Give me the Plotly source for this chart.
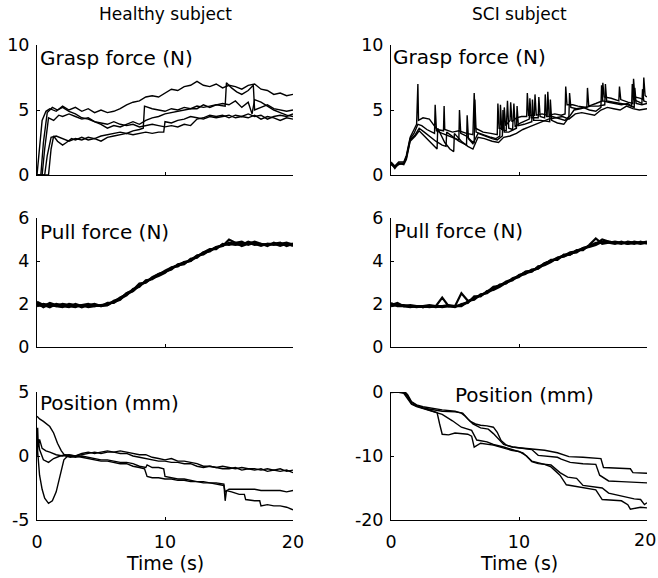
import plotly.graph_objects as go

# ---------------- data ----------------
# Healthy subject, grasp force (N): (time s, value) pairs
HG_A = [(0,0),(0.15,1.5),(0.4,4.2),(0.7,4.9),(1,5.1),(1.5,4.9),(2,5.3),(2.5,5.0),(3,5.2),(3.5,4.9),(4,5.1),(4.5,4.8),(5,5.0),(5.5,4.8),(6,4.9),(6.5,5.1),(7,5.4),(7.5,5.6),(8,5.7),(8.5,6.0),(9,6.1),(9.5,6.0),(10,6.3),(10.5,6.6),(11,6.5),(11.5,6.8),(12,6.9),(12.5,7.2),(13,6.9),(13.5,6.8),(14,7.0),(14.5,6.7),(15,6.9),(15.5,6.8),(16,6.6),(16.5,6.9),(17,7.0),(17.5,6.6),(18,6.5),(18.5,6.2),(19,6.3),(19.5,6.1),(20,6.2)]
HG_B = [(0,0),(0.3,0),(0.5,2.5),(0.8,4.8),(1.2,5.2),(1.6,5.0),(2,5.2),(2.5,4.9),(3,4.7),(3.5,4.4),(4,4.3),(4.5,4.1),(5,3.9),(5.5,3.6),(6,3.8),(6.5,3.7),(7,3.9),(7.5,4.1),(8,3.9),(8.5,4.2),(9,4.4),(9.5,4.5),(10,4.7),(10.5,4.8),(11,4.9),(11.5,5.0),(12,5.1),(12.5,5.1),(13,5.4),(13.5,5.2),(14,5.4),(14.5,5.5),(15,5.4),(15.5,5.7),(16,5.2),(16.5,5.6),(16.8,4.7),(17.0,5.8),(17.5,5.6),(18,5.3),(18.5,5.0),(19,4.8),(19.5,4.6),(20,4.5)]
HG_C = [(0,0),(0.6,0),(0.8,1.5),(1.1,2.9),(1.5,3.0),(2,2.8),(2.5,2.6),(3,2.8),(3.5,2.7),(4,2.9),(4.5,2.8),(5,3.0),(5.5,3.1),(6,3.2),(6.5,3.3),(7,3.2),(7.5,3.4),(8,3.5),(8.3,3.6),(8.4,5.3),(9,5.1),(9.5,5.0),(10,4.9),(10.5,5.1),(11,5.0),(11.5,5.2),(12,5.1),(12.5,5.3),(13,5.2),(13.5,5.3),(14,5.4),(14.7,5.3),(14.8,7.1),(15.2,6.7),(15.6,6.4),(16,6.2),(16.5,6.5),(16.9,6.9),(17.0,5.0),(17.5,5.2),(18,5.4),(18.5,5.1),(19,5.0),(19.5,4.9),(20,5.0)]
HG_D = [(0,0),(0.9,0),(1.1,2.0),(1.3,3.0),(1.6,2.6),(2,2.3),(2.3,2.5),(2.7,2.8),(3,2.7),(3.5,2.9),(4,2.7),(4.5,2.8),(5,2.6),(5.5,2.9),(6,3.0),(6.5,3.1),(7,3.2),(7.5,3.1),(8,3.2),(8.5,3.3),(9,3.2),(9.5,3.3),(9.9,3.3),(10,4.1),(10.5,4.0),(11,4.2),(11.5,4.3),(12,4.5),(12.5,4.4),(13,4.3),(13.5,4.5),(14,4.4),(14.5,4.5),(15,4.6),(15.5,4.4),(16,4.5),(16.5,4.4),(17,4.6),(17.5,4.3),(18,4.5),(18.5,4.4),(19,4.2),(19.5,4.4),(20,4.3)]
HG_E = [(0,0),(0.4,0),(0.6,2.0),(0.9,4.4),(1.3,4.2),(1.7,4.6),(2,4.5),(2.5,4.7),(3,4.5),(3.5,4.3),(4,4.4),(4.5,4.1),(5,4.0),(5.5,3.9),(6,4.1),(6.5,3.9),(7,3.8),(7.5,3.9),(8,3.7),(8.5,3.8),(9,3.9),(9.5,3.8),(10,3.7),(10.5,3.8),(11,3.7),(11.5,3.9),(12,3.8),(12.5,4.3),(13,4.4),(13.5,4.6),(14,4.5),(14.5,4.6),(15,4.4),(15.5,4.6),(16,4.5),(16.5,4.7),(17,4.5),(17.5,4.6),(18,4.3),(18.5,4.5),(19,4.6),(19.5,4.5),(20,4.7)]

# SCI subject, grasp force (N)
SG_A = [(0,1.0),(0.3,0.7),(0.6,1.0),(1.0,1.0),(1.2,1.5),(1.5,2.9),(1.8,3.5),(2.0,3.9),(2.1,7.0),(2.15,4.2),(2.5,4.4),(3.0,4.3),(3.3,3.9),(3.6,3.5),(4.1,3.4),(4.15,5.3),(4.2,3.5),(4.8,3.3),(5.3,3.4),(5.9,3.2),(6.4,3.1),(6.5,6.3),(6.6,3.6),(7.2,3.3),(7.8,3.2),(8.3,3.1),(8.35,5.5),(8.45,3.6),(8.8,3.6),(8.85,5.2),(8.95,3.8),(9.3,4.2),(9.35,5.6),(9.45,4.1),(9.8,4.4),(10.2,4.5),(10.6,4.5),(10.65,6.3),(10.75,4.6),(11.2,4.6),(11.25,6.2),(11.35,4.6),(11.8,4.7),(12.2,4.6),(12.25,6.4),(12.35,4.6),(12.8,4.7),(13.3,4.6),(13.6,4.7),(13.65,6.8),(13.75,5.4),(14.2,5.4),(14.6,5.3),(15.3,5.2),(15.35,6.7),(15.45,5.3),(16.0,5.5),(16.5,5.7),(16.55,7.1),(16.65,6.0),(17.2,5.9),(17.8,5.7),(17.85,6.8),(17.95,5.8),(18.5,5.6),(18.9,5.5),(18.95,7.4),(19.05,6.0),(19.5,5.9),(19.7,5.8),(19.75,7.5),(19.85,6.1),(20,6.0)]
SG_B = [(0,0.9),(0.3,0.6),(0.6,0.9),(1.0,0.9),(1.2,1.4),(1.5,2.8),(1.8,3.2),(2.1,3.9),(2.4,3.8),(2.8,3.5),(3.2,3.3),(3.4,3.2),(3.45,5.4),(3.55,3.4),(4.0,3.2),(4.5,3.0),(5.0,2.8),(5.3,2.7),(5.35,5.0),(5.45,3.2),(5.9,3.0),(6.3,2.6),(6.5,2.5),(6.55,5.8),(6.65,3.3),(7.2,3.1),(7.8,2.9),(8.2,2.8),(8.5,3.0),(8.55,5.4),(8.65,3.5),(9.0,3.4),(9.1,5.7),(9.2,3.6),(9.5,3.5),(9.6,5.5),(9.7,3.7),(10.1,4.0),(10.8,4.3),(10.85,5.9),(10.95,4.4),(11.5,4.4),(11.55,6.0),(11.65,4.5),(12.0,4.4),(12.05,6.2),(12.15,4.5),(12.6,4.5),(13.2,4.3),(13.6,4.2),(13.9,4.5),(13.95,6.3),(14.05,5.2),(14.5,5.1),(15.0,5.2),(15.5,5.0),(16.0,4.9),(16.4,5.2),(16.45,6.9),(16.55,5.7),(17.0,5.6),(17.5,5.5),(18.0,5.4),(18.5,5.5),(18.8,5.3),(18.85,7.0),(18.95,5.8),(19.4,5.6),(19.6,5.5),(19.65,6.6),(19.75,5.7),(20,5.6)]
SG_C = [(0,0.8),(0.3,0.6),(0.6,0.8),(1.0,0.9),(1.2,1.3),(1.5,2.7),(1.9,3.1),(2.2,3.6),(2.6,3.3),(3.0,3.0),(3.5,2.6),(4.0,2.3),(4.3,2.2),(4.35,3.3),(4.8,3.0),(5.3,2.6),(5.9,2.3),(5.95,4.6),(6.05,2.8),(6.4,2.4),(6.8,3.2),(7.3,3.0),(7.9,2.8),(8.3,2.7),(8.7,3.0),(8.75,5.0),(8.85,3.3),(9.2,3.3),(9.8,3.6),(9.85,5.3),(9.95,3.8),(10.4,3.9),(11.0,4.1),(11.05,5.8),(11.15,4.2),(11.7,4.2),(12.4,4.1),(12.45,5.8),(12.55,4.2),(13.0,4.0),(13.5,3.9),(13.8,4.3),(14.3,5.0),(14.8,5.1),(15.2,5.2),(15.6,5.3),(16.2,5.3),(16.7,5.4),(16.75,7.0),(16.85,5.7),(17.4,5.6),(18.0,5.5),(18.5,5.4),(19.0,5.2),(19.05,6.7),(19.15,5.5),(19.6,5.4),(20,5.5)]
SG_D = [(0,0.9),(0.3,0.5),(0.6,0.9),(1.0,0.8),(1.2,1.2),(1.5,2.6),(1.9,3.0),(2.2,3.4),(2.6,3.0),(3.0,2.6),(3.4,2.2),(3.6,2.0),(3.65,3.6),(4.2,2.5),(4.6,2.0),(4.9,1.8),(4.95,3.2),(5.5,2.6),(6.0,2.2),(6.4,2.0),(6.8,2.9),(7.3,2.8),(7.9,2.6),(8.4,2.5),(8.8,2.9),(9.3,3.0),(9.8,3.2),(10.3,3.5),(10.8,3.7),(11.3,3.9),(11.8,4.1),(12.3,4.3),(12.9,4.4),(13.4,4.5),(13.9,4.3),(14.4,4.7),(14.9,4.8),(15.4,4.7),(15.9,4.6),(16.4,5.0),(16.9,5.2),(17.4,5.1),(17.9,5.0),(18.4,5.3),(18.9,5.1),(19.4,5.0),(20,5.1)]

# Pull force (N), sampled every 0.5 s from 0 to 20 s
T_PULL = [i * 0.5 for i in range(41)]
HPF = [
    [1.9,2.0,1.95,1.9,2.0,1.95,1.9,1.95,1.85,1.9,1.95,2.0,2.1,2.3,2.45,2.6,2.9,3.0,3.25,3.4,3.5,3.6,3.85,3.9,4.05,4.25,4.3,4.5,4.6,4.75,4.8,4.75,4.8,4.85,4.75,4.8,4.7,4.85,4.75,4.8,4.7],
    [2.05,1.85,2.0,1.9,1.85,2.0,1.95,1.85,1.95,2.0,1.9,1.95,2.15,2.25,2.4,2.7,2.8,3.1,3.15,3.35,3.55,3.7,3.75,3.95,4.0,4.2,4.4,4.45,4.65,4.7,5.0,4.85,4.7,4.8,4.9,4.8,4.75,4.8,4.85,4.7,4.8],
    [1.95,1.9,2.05,1.95,1.9,1.85,2.0,1.9,1.9,1.95,1.9,2.05,2.05,2.25,2.5,2.6,2.85,3.05,3.2,3.3,3.45,3.7,3.8,3.85,4.1,4.15,4.4,4.55,4.55,4.8,4.75,4.85,4.9,4.75,4.85,4.75,4.8,4.75,4.8,4.85,4.75],
    [2.1,1.95,1.85,2.0,1.95,1.9,1.85,1.95,2.0,1.9,1.95,1.95,2.1,2.2,2.5,2.65,2.95,3.0,3.2,3.4,3.5,3.65,3.8,3.95,4.0,4.25,4.35,4.5,4.65,4.7,4.85,4.8,4.75,4.9,4.8,4.7,4.8,4.8,4.7,4.8,4.8],
]
SPF = [
    [2.0,2.0,1.9,1.9,1.85,1.9,1.85,1.9,2.3,1.9,1.9,1.95,2.1,2.3,2.4,2.55,2.75,2.85,3.05,3.15,3.3,3.5,3.55,3.7,3.9,4.0,4.15,4.25,4.4,4.45,4.6,4.7,4.85,4.85,4.9,4.85,4.8,4.9,4.85,4.8,4.85],
    [1.95,2.05,1.9,1.85,1.9,1.85,1.9,1.85,1.9,1.95,1.9,2.5,2.15,2.2,2.45,2.5,2.7,2.9,2.95,3.2,3.3,3.4,3.6,3.65,3.85,4.05,4.05,4.3,4.3,4.5,4.5,4.75,5.05,4.8,4.85,4.9,4.85,4.85,4.8,4.9,4.8],
    [1.9,1.95,1.95,1.9,1.9,1.85,1.9,1.9,1.85,1.9,1.85,2.0,2.05,2.35,2.35,2.6,2.65,2.8,3.0,3.1,3.35,3.45,3.5,3.75,3.8,3.95,4.15,4.2,4.35,4.4,4.6,4.65,4.75,4.9,4.85,4.8,4.9,4.8,4.85,4.85,4.9],
    [2.05,1.9,1.9,1.95,1.9,1.9,1.95,1.9,1.9,1.9,1.9,1.9,2.1,2.25,2.4,2.55,2.8,2.85,3.0,3.15,3.25,3.5,3.55,3.65,3.9,4.0,4.1,4.25,4.3,4.5,4.55,4.7,4.8,5.0,4.9,4.85,4.85,4.8,4.9,4.85,4.85],
]

# Healthy subject, position (mm)
HP_A = [(0,0.5),(0.05,2.2),(0.1,0.8),(0.2,1.3),(0.4,0.6),(0.7,0.4),(1.0,0.3),(1.5,0.1),(2.0,0.0),(2.5,0.1),(3,0.0),(3.5,0.2),(4,0.3),(4.5,0.2),(5,0.3),(5.5,0.4),(6,0.3),(6.5,0.4),(7,0.3),(7.5,0.2),(8,0.1),(8.5,0.1),(9,-0.1),(9.5,-0.2),(10,-0.3),(10.5,-0.2),(11,-0.4),(11.5,-0.4),(12,-0.5),(12.5,-0.6),(13,-0.8),(13.5,-0.8),(14,-0.9),(14.5,-0.8),(15,-0.9),(15.5,-1.0),(16,-0.9),(16.5,-1.0),(17,-1.0),(17.5,-1.1),(18,-1.0),(18.5,-1.1),(19,-1.0),(19.5,-1.2),(20,-1.1)]
HP_B = [(0,0.0),(0.1,1.3),(0.2,0.5),(0.5,-0.3),(0.9,-0.5),(1.3,-0.2),(1.8,0.0),(2.2,0.1),(3,0.0),(3.5,0.1),(4,0.2),(4.5,0.3),(5,0.2),(5.5,0.3),(6,0.3),(6.5,0.2),(7,0.2),(7.5,0.0),(8,-0.1),(8.5,-0.2),(9,-0.3),(9.5,-0.4),(10,-0.4),(10.5,-0.5),(11,-0.5),(11.5,-0.6),(12,-0.6),(12.5,-0.8),(13,-0.9),(13.5,-0.8),(14,-0.9),(14.5,-1.0),(15,-1.0),(15.5,-0.9),(16,-1.1),(16.5,-1.0),(17,-1.1),(17.5,-1.0),(18,-1.2),(18.5,-1.1),(19,-1.2),(19.5,-1.1),(20,-1.3)]
HP_C = [(0,3.1),(0.2,2.9),(0.5,2.7),(0.8,2.5),(1.0,2.3),(1.3,1.8),(1.6,1.0),(1.9,0.4),(2.2,0.0),(2.6,-0.1),(3,0.0),(3.5,-0.1),(4,-0.2),(4.5,-0.3),(5,-0.4),(5.5,-0.4),(6,-0.5),(6.5,-0.6),(7,-0.6),(7.5,-0.8),(8,-0.9),(8.4,-1.0),(8.6,-1.6),(9,-1.7),(9.5,-1.7),(10,-1.8),(10.5,-1.8),(11,-1.9),(11.5,-1.9),(12,-2.0),(12.5,-2.0),(13,-2.1),(13.5,-2.1),(14,-2.2),(14.6,-2.3),(14.7,-2.8),(15,-2.6),(15.5,-2.6),(16,-2.6),(16.5,-2.6),(17,-2.6),(17.5,-2.7),(18,-2.7),(18.5,-2.7),(19,-2.7),(19.5,-2.8),(20,-2.7)]
HP_D = [(0,1.0),(0.1,0.0),(0.2,-1.5),(0.4,-2.6),(0.6,-3.3),(0.9,-3.7),(1.2,-3.5),(1.5,-2.8),(1.8,-1.5),(2.1,-0.3),(2.4,0.0),(3,-0.1),(3.5,0.0),(4,-0.1),(4.5,-0.2),(5,-0.3),(5.5,-0.3),(6,-0.4),(6.5,-0.5),(7,-0.5),(7.5,-0.6),(8,-0.8),(8.5,-0.9),(8.6,-0.7),(9,-0.9),(9.5,-0.9),(9.9,-1.0),(10,-1.6),(10.5,-1.7),(11,-1.8),(11.5,-1.8),(12,-1.9),(12.5,-2.0),(13,-2.0),(13.5,-2.1),(14,-2.1),(14.6,-2.2),(14.7,-3.5),(14.8,-2.7),(15.2,-2.8),(15.8,-3.0),(16.2,-3.0),(16.3,-3.4),(17,-3.5),(17.4,-3.5),(17.5,-3.9),(18,-3.8),(18.5,-3.9),(19,-3.9),(19.5,-4.0),(20,-4.2)]

# SCI subject, position (mm)
SP_A = [(0,0.0),(0.5,0.3),(1.0,0.2),(1.3,-0.4),(1.6,-1.5),(2.0,-2.0),(2.5,-2.3),(3.0,-2.5),(4.0,-2.8),(5.0,-3.0),(5.5,-3.3),(5.8,-3.8),(6.2,-4.6),(6.6,-5.0),(7.0,-5.2),(7.5,-5.3),(8.0,-5.5),(8.3,-6.3),(8.6,-7.6),(9.0,-8.3),(9.5,-8.6),(10.0,-8.7),(11.0,-8.9),(12.0,-9.1),(13.0,-9.5),(13.9,-10.1),(15.0,-10.2),(16.4,-10.4),(16.6,-11.8),(17.5,-11.9),(18.7,-12.0),(18.9,-12.6),(20.0,-12.7)]
SP_B = [(0,0.1),(0.5,0.2),(1.0,0.0),(1.3,-0.6),(1.6,-1.6),(2.0,-2.1),(2.5,-2.5),(3.0,-2.7),(4.0,-3.0),(5.0,-3.1),(5.6,-3.3),(6.0,-4.2),(6.4,-5.0),(7.0,-5.6),(7.6,-5.8),(8.0,-6.5),(8.8,-8.2),(9.5,-8.6),(10.5,-8.8),(11.0,-9.0),(11.5,-9.9),(12.0,-10.0),(13.0,-10.2),(13.3,-10.5),(14.0,-11.0),(15.0,-11.2),(16.0,-11.3),(16.3,-13.0),(17.0,-13.9),(18.0,-14.0),(19.0,-14.1),(20.0,-14.2)]
SP_C = [(0,0.0),(0.5,0.1),(1.0,-0.1),(1.3,-0.8),(1.6,-1.8),(2.0,-2.2),(2.5,-2.5),(3.0,-2.8),(3.6,-3.2),(3.8,-5.0),(4.0,-6.6),(4.5,-6.7),(5.0,-6.4),(6.0,-6.6),(6.3,-6.9),(6.5,-8.6),(7.0,-8.0),(8.0,-8.3),(8.7,-8.7),(9.4,-9.1),(10.0,-9.3),(10.6,-10.0),(11.0,-10.9),(11.5,-11.2),(12.5,-11.4),(13.2,-12.6),(13.8,-13.3),(14.5,-13.5),(15.0,-14.6),(16.5,-15.0),(17.0,-15.8),(18.0,-16.3),(19.0,-16.7),(19.5,-16.8),(19.8,-17.6),(20.0,-17.3)]
SP_D = [(0,-0.1),(0.5,0.0),(1.0,-0.2),(1.3,-1.0),(1.6,-1.9),(2.0,-2.3),(2.5,-2.6),(3.0,-2.9),(4.0,-3.5),(4.8,-4.5),(5.5,-5.5),(6.3,-6.0),(6.7,-7.5),(7.5,-7.8),(8.0,-8.2),(8.8,-8.6),(9.5,-9.0),(10.3,-9.5),(11.0,-10.8),(12.0,-11.3),(12.5,-11.7),(13.2,-13.0),(13.7,-14.5),(14.5,-14.8),(15.0,-15.0),(16.0,-15.3),(16.5,-16.8),(18.0,-17.0),(18.5,-17.6),(18.7,-18.3),(19.5,-18.0),(20.0,-18.1)]

COL_TITLES = ["Healthy subject", "SCI subject"]
PANEL_LABELS = ["Grasp force (N)", "Pull force (N)", "Position (mm)"]
X_TICKS = [0, 10, 20]
X_TICKTEXT = ["0", "10", "20"]
Y_TICKS = {
    1: ([0, 5, 10], ["0", "5", "10"]), 2: ([0, 5, 10], ["0", "5", "10"]),
    3: ([0, 2, 4, 6], ["0", "2", "4", "6"]), 4: ([0, 2, 4, 6], ["0", "2", "4", "6"]),
    5: ([-5, 0, 5], ["-5", "0", "5"]), 6: ([-20, -10, 0], ["-20", "-10", "0"]),
}
Y_RANGES = {1: [0, 10], 2: [0, 10], 3: [0, 6], 4: [0, 6], 5: [-5, 5], 6: [-20, 0]}

# ---------------- figure ----------------
W, H = 658, 578
FONT = "DejaVu Sans"
fig = go.Figure()

def add_pairs(pairs, n, width=1.4):
    fig.add_trace(go.Scatter(
        x=[p[0] for p in pairs], y=[p[1] for p in pairs], mode="lines",
        line=dict(color="black", width=width), xaxis=f"x{n}", yaxis=f"y{n}",
        showlegend=False, hoverinfo="skip"))

def add_series(xs, ys, n, width=2.2):
    fig.add_trace(go.Scatter(
        x=xs, y=ys, mode="lines", line=dict(color="black", width=width),
        xaxis=f"x{n}", yaxis=f"y{n}", showlegend=False, hoverinfo="skip"))

for tr in [HG_A, HG_B, HG_C, HG_D, HG_E]:
    add_pairs(tr, 1)
for tr in [SG_A, SG_B, SG_C, SG_D]:
    add_pairs(tr, 2)
for vals in HPF:
    add_series(T_PULL, vals, 3)
for vals in SPF:
    add_series(T_PULL, vals, 4)
for tr in [HP_A, HP_B, HP_C, HP_D]:
    add_pairs(tr, 5)
for tr in [SP_A, SP_B, SP_C, SP_D]:
    add_pairs(tr, 6)

col_px = [(37, 293), (391, 647)]
row_px = [(45, 175), (218, 347), (392, 520)]

layout = dict(width=W, height=H, margin=dict(l=0, r=0, t=0, b=0, autoexpand=False),
              paper_bgcolor="white", plot_bgcolor="white", showlegend=False)
for n in range(1, 7):
    r, c = (n - 1) // 2, (n - 1) % 2
    x0, x1 = col_px[c]
    y0, y1 = row_px[r]
    ax = dict(showline=True, linecolor="black", linewidth=1, ticks="inside",
              ticklen=3, tickcolor="black", showgrid=False, zeroline=False,
              automargin=False,
              tickfont=dict(family=FONT, size=17.5, color="black"))
    # the right-most "20" label sits at the page edge; it is drawn as an annotation below
    ttext = list(X_TICKTEXT) if n != 6 else X_TICKTEXT[:-1] + [""]
    xa = dict(ax, domain=[x0 / W, x1 / W], range=[0, 20], tickvals=X_TICKS,
              ticktext=ttext, showticklabels=(r == 2), anchor=f"y{n}",
              ticklabelstandoff=6)
    ya = dict(ax, domain=[1 - y1 / H, 1 - y0 / H], range=Y_RANGES[n],
              tickvals=Y_TICKS[n][0], ticktext=Y_TICKS[n][1], anchor=f"x{n}",
              ticklabelstandoff=3)
    key = "" if n == 1 else str(n)
    layout[f"xaxis{key}"] = xa
    layout[f"yaxis{key}"] = ya

ann = []
for c, title in enumerate(COL_TITLES):
    cx = (col_px[c][0] + col_px[c][1]) / 2
    ann.append(dict(text=title, x=cx / W, y=1 - 14 / H, xref="paper", yref="paper",
                    xanchor="center", yanchor="middle", showarrow=False,
                    font=dict(family=FONT, size=17, color="black")))
    ann.append(dict(text="Time (s)", x=cx / W, y=1 - 563 / H, xref="paper", yref="paper",
                    xanchor="center", yanchor="middle", showarrow=False,
                    font=dict(family=FONT, size=19, color="black")))

ann.append(dict(text=X_TICKTEXT[-1], x=1.0, y=1 - 540 / H, xref="paper", yref="paper",
                xanchor="right", yanchor="middle", showarrow=False,
                font=dict(family=FONT, size=17.5, color="black")))

label_pos = [(38, 58), (391, 57), (38, 232), (392, 231), (38, 403), (453, 395)]
for i, (px, py) in enumerate(label_pos):
    ann.append(dict(text=PANEL_LABELS[i // 2], x=px / W, y=1 - py / H,
                    xref="paper", yref="paper", xanchor="left", yanchor="middle",
                    showarrow=False, font=dict(family=FONT, size=20, color="black")))
layout["annotations"] = ann
fig.update_layout(**layout)
fig.write_html("out.html")
